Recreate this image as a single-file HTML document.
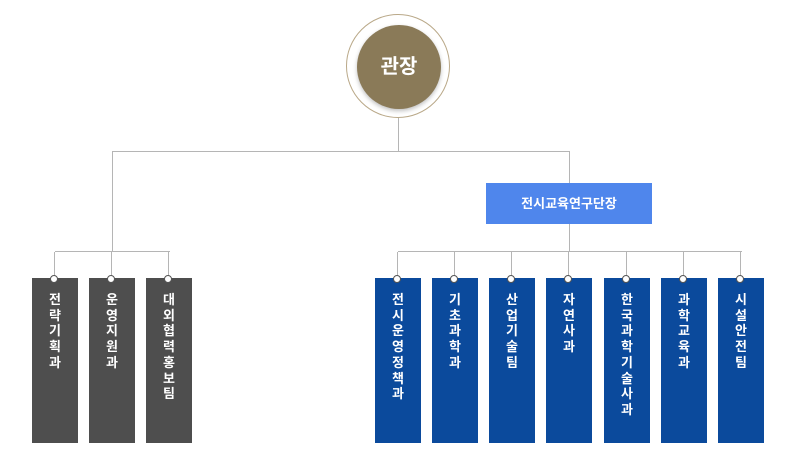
<!DOCTYPE html>
<html><head><meta charset="utf-8"><style>
body{margin:0;width:800px;height:450px;background:#fff;position:relative;overflow:hidden;font-family:"Liberation Sans","Noto Sans CJK KR",sans-serif}
.l{position:absolute;background:#b5b5b5}
.b{position:absolute;top:278px;width:46px;height:165px;color:#fff;font-weight:bold;font-size:13px;line-height:15.7px;text-align:center;padding-top:292px;box-sizing:border-box}
.b span{display:block;width:14px;margin:0 auto;word-break:break-all;position:absolute;left:16px;top:14px}
.g{background:#4e4e4e}.d{background:#0b4a9c}
.dot{position:absolute;width:6px;height:6px;border:1.5px solid #555;border-radius:50%;background:#fff}
</style></head><body>
<div style="position:absolute;left:346px;top:14px;width:104px;height:104px;border:1px solid #b9a888;border-radius:50%;box-sizing:border-box;background:#fff"></div>
<div style="position:absolute;left:357px;top:25px;width:84px;height:84px;border-radius:50%;background:#8a7a58;box-shadow:0 2px 4px rgba(0,0,0,.25);color:#fff;font-weight:bold;font-size:20px;line-height:84px;text-align:center">관장</div>
<div class="l" style="left:398px;top:118px;width:1px;height:34px"></div>
<div class="l" style="left:112px;top:151px;width:458px;height:1px"></div>
<div class="l" style="left:112px;top:151px;width:1px;height:101px"></div>
<div class="l" style="left:569px;top:151px;width:1px;height:32px"></div>
<div style="position:absolute;left:486px;top:183px;width:166px;height:41px;background:#4f86ec;color:#fff;font-weight:bold;font-size:13px;line-height:41px;text-align:center">전시교육연구단장</div>
<div class="l" style="left:569px;top:224px;width:1px;height:28px"></div>
<div class="l" style="left:55px;top:251px;width:115px;height:1px"></div>
<div class="l" style="left:398px;top:251px;width:344px;height:1px"></div>
<div id="c"></div>
<script>
var items=[[32,'g','전략기획과'],[89,'g','운영지원과'],[146,'g','대외협력홍보팀'],[375,'d','전시운영정책과'],[432,'d','기초과학과'],[489,'d','산업기술팀'],[546,'d','자연사과'],[604,'d','한국과학기술사과'],[661,'d','과학교육과'],[718,'d','시설안전팀']];
var h='';items.forEach(function(it){var cx=it[0]+23;
h+='<div class="l" style="left:'+(cx-1)+'px;top:252px;width:1px;height:26px"></div>';
h+='<div class="b '+it[1]+'" style="left:'+it[0]+'px;padding:0"><span>'+it[2]+'</span></div>';
h+='<div class="dot" style="left:'+(cx-5)+'px;top:275px"></div>';});
document.getElementById('c').innerHTML=h;
</script>
</body></html>
